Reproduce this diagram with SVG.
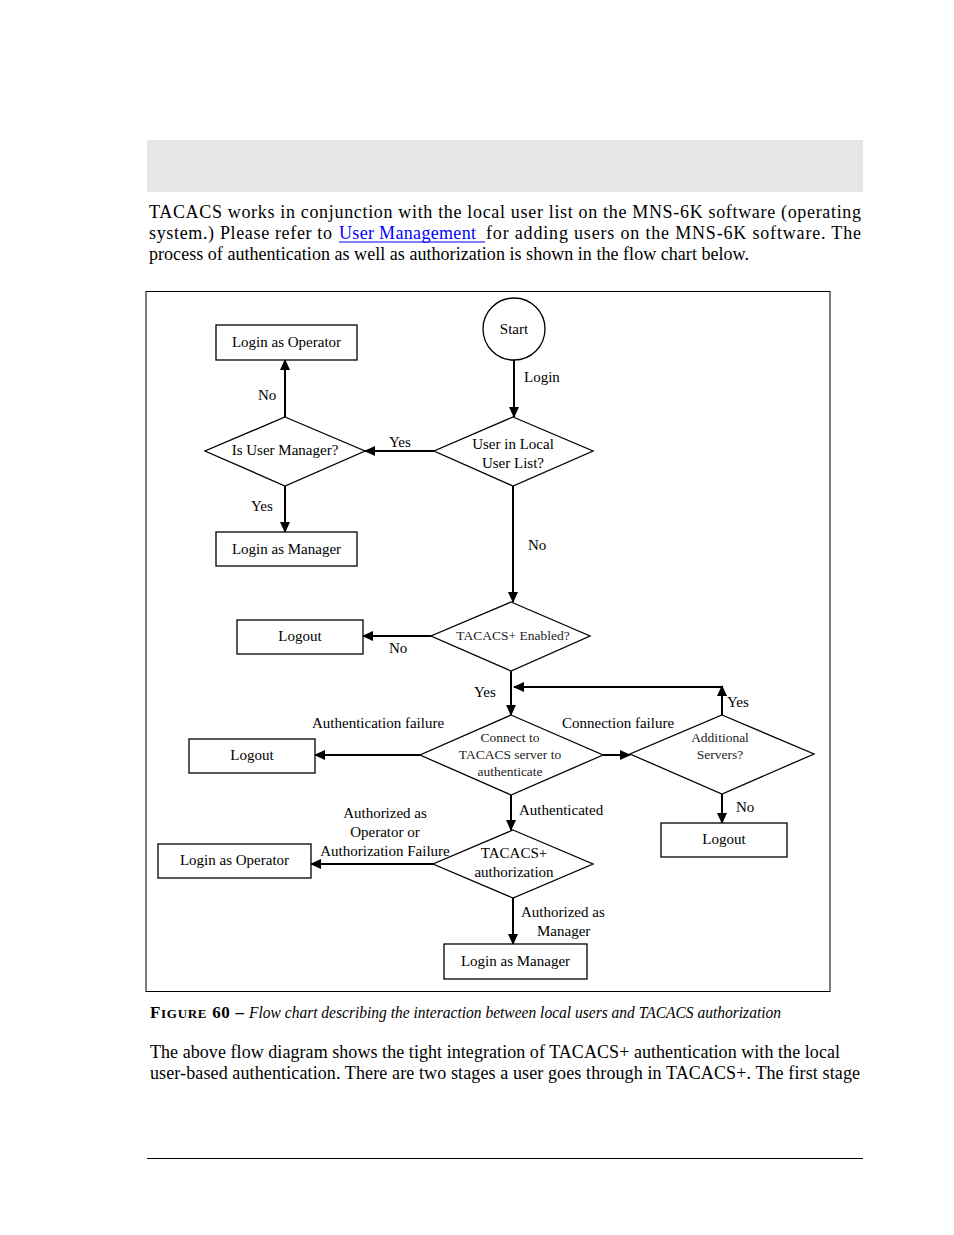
<svg xmlns="http://www.w3.org/2000/svg" width="954" height="1235" viewBox="0 0 954 1235">
<style>
text{font-family:"Liberation Serif","Times New Roman",serif;fill:#000}
.p{font-size:18px}
.n{font-size:15px;text-anchor:middle}
.d{font-size:13.5px;text-anchor:middle;fill:#222}
.l{font-size:15px}
.box{fill:#fff;stroke:#000;stroke-width:1.3}
.c{fill:none;stroke:#000;stroke-width:2}
</style>
<defs>
<marker id="ah" markerUnits="userSpaceOnUse" markerWidth="11" markerHeight="10" refX="10" refY="5" orient="auto">
<path d="M0,0 L11,5 L0,10 z" fill="#000"/>
</marker>
</defs>
<rect x="147" y="140" width="716" height="52" fill="#e6e6e6"/>
<text class="p" x="149" y="218" textLength="712" lengthAdjust="spacing">TACACS works in conjunction with the local user list on the MNS-6K software (operating</text>
<text class="p" x="149" y="239" textLength="183" lengthAdjust="spacing">system.) Please refer to</text>
<text class="p" x="339" y="239" textLength="137" lengthAdjust="spacing" style="fill:#0000ff">User Management</text>
<line x1="339" y1="242" x2="485" y2="242" stroke="#0000ff" stroke-width="1"/>
<text class="p" x="486" y="239" textLength="375" lengthAdjust="spacing">for adding users on the MNS-6K software. The</text>
<text class="p" x="149" y="260" textLength="600" lengthAdjust="spacing">process of authentication as well as authorization is shown in the flow chart below.</text>
<rect x="146" y="291.5" width="684" height="700" fill="none" stroke="#000" stroke-width="1"/>
<g id="connectors">
<line class="c" x1="514" y1="360" x2="514" y2="417" marker-end="url(#ah)"/>
<line class="c" x1="434" y1="451" x2="365" y2="451" marker-end="url(#ah)"/>
<line class="c" x1="285" y1="417" x2="285" y2="360" marker-end="url(#ah)"/>
<line class="c" x1="285" y1="486" x2="285" y2="532" marker-end="url(#ah)"/>
<line class="c" x1="513" y1="486" x2="513" y2="602" marker-end="url(#ah)"/>
<line class="c" x1="431" y1="636" x2="363" y2="636" marker-end="url(#ah)"/>
<line class="c" x1="511" y1="671" x2="511" y2="715" marker-end="url(#ah)"/>
<line class="c" x1="722" y1="715" x2="722" y2="686" marker-end="url(#ah)"/>
<line class="c" x1="722" y1="687" x2="514" y2="687" marker-end="url(#ah)"/>
<line class="c" x1="420" y1="755" x2="315" y2="755" marker-end="url(#ah)"/>
<line class="c" x1="603" y1="755" x2="630" y2="755" marker-end="url(#ah)"/>
<line class="c" x1="511" y1="795" x2="511" y2="830" marker-end="url(#ah)"/>
<line class="c" x1="722" y1="794" x2="722" y2="823" marker-end="url(#ah)"/>
<line class="c" x1="433" y1="864" x2="311" y2="864" marker-end="url(#ah)"/>
<line class="c" x1="513" y1="898" x2="513" y2="944" marker-end="url(#ah)"/>
<text class="l" x="524" y="382">Login</text>
<text class="l" x="389" y="447">Yes</text>
<text class="l" x="258" y="400">No</text>
<text class="l" x="251" y="511">Yes</text>
<text class="l" x="528" y="550">No</text>
<text class="l" x="389" y="653">No</text>
<text class="l" x="474" y="697">Yes</text>
<text class="l" x="727" y="707">Yes</text>
<text class="l" x="312" y="728">Authentication failure</text>
<text class="l" x="562" y="728">Connection failure</text>
<text class="l" x="519" y="815">Authenticated</text>
<text class="l" x="736" y="812">No</text>
<text class="l" x="385" y="818" text-anchor="middle">Authorized as</text>
<text class="l" x="385" y="837" text-anchor="middle">Operator or</text>
<text class="l" x="385" y="856" text-anchor="middle">Authorization Failure</text>
<text class="l" x="521" y="917">Authorized as</text>
<text class="l" x="537" y="936">Manager</text>
</g>
<g id="start"><circle cx="514" cy="329" r="31" class="box"/><text class="n" x="514" y="334">Start</text></g>
<g id="login-operator-1"><rect x="216" y="325" width="141" height="35" class="box"/><text class="n" x="286.5" y="347">Login as Operator</text></g>
<g id="is-user-manager"><polygon points="285,417 365,451 285,486 205,451" class="box"/><text class="n" x="285" y="455">Is User Manager?</text></g>
<g id="user-in-local"><polygon points="513,417 593,451 513,486 434,451" class="box"/><text class="n" x="513" y="449">User in Local</text><text class="n" x="513" y="468">User List?</text></g>
<g id="login-manager-1"><rect x="216" y="532" width="141" height="34" class="box"/><text class="n" x="286.5" y="554">Login as Manager</text></g>
<g id="tacacs-enabled"><polygon points="511,602 590,636 511,671 431,636" class="box"/><text class="d" x="513" y="640">TACACS+ Enabled?</text></g>
<g id="logout-1"><rect x="237" y="620" width="126" height="34" class="box"/><text class="n" x="300" y="641">Logout</text></g>
<g id="connect-tacacs"><polygon points="511,715 603,755 511,795 420,755" class="box"/><text class="d" x="510" y="742">Connect to</text><text class="d" x="510" y="759">TACACS server to</text><text class="d" x="510" y="776">authenticate</text></g>
<g id="additional-servers"><polygon points="722,715 814,754 722,794 630,754" class="box"/><text class="d" x="720" y="742">Additional</text><text class="d" x="720" y="759">Servers?</text></g>
<g id="logout-2"><rect x="189" y="739" width="126" height="34" class="box"/><text class="n" x="252" y="760">Logout</text></g>
<g id="logout-3"><rect x="661" y="823" width="126" height="34" class="box"/><text class="n" x="724" y="844">Logout</text></g>
<g id="tacacs-authorization"><polygon points="513,830 593,864 513,898 433,864" class="box"/><text class="n" x="514" y="858">TACACS+</text><text class="n" x="514" y="877">authorization</text></g>
<g id="login-operator-2"><rect x="158" y="844" width="153" height="34" class="box"/><text class="n" x="234.5" y="865">Login as Operator</text></g>
<g id="login-manager-2"><rect x="444" y="944" width="143" height="35" class="box"/><text class="n" x="515.5" y="966">Login as Manager</text></g>
<text x="150" y="1018" style="font-size:17px;font-weight:bold" textLength="94" lengthAdjust="spacing">F<tspan style="font-size:13px">IGURE</tspan> 60 –</text>
<text x="249" y="1018" style="font-size:16px;font-style:italic" textLength="532" lengthAdjust="spacingAndGlyphs">Flow chart describing the interaction between local users and TACACS authorization</text>
<text class="p" x="150" y="1058" textLength="690" lengthAdjust="spacing">The above flow diagram shows the tight integration of TACACS+ authentication with the local</text>
<text class="p" x="150" y="1079" textLength="710" lengthAdjust="spacing">user-based authentication. There are two stages a user goes through in TACACS+.  The first stage</text>
<line x1="147" y1="1158.5" x2="863" y2="1158.5" stroke="#000" stroke-width="1"/>
</svg>
